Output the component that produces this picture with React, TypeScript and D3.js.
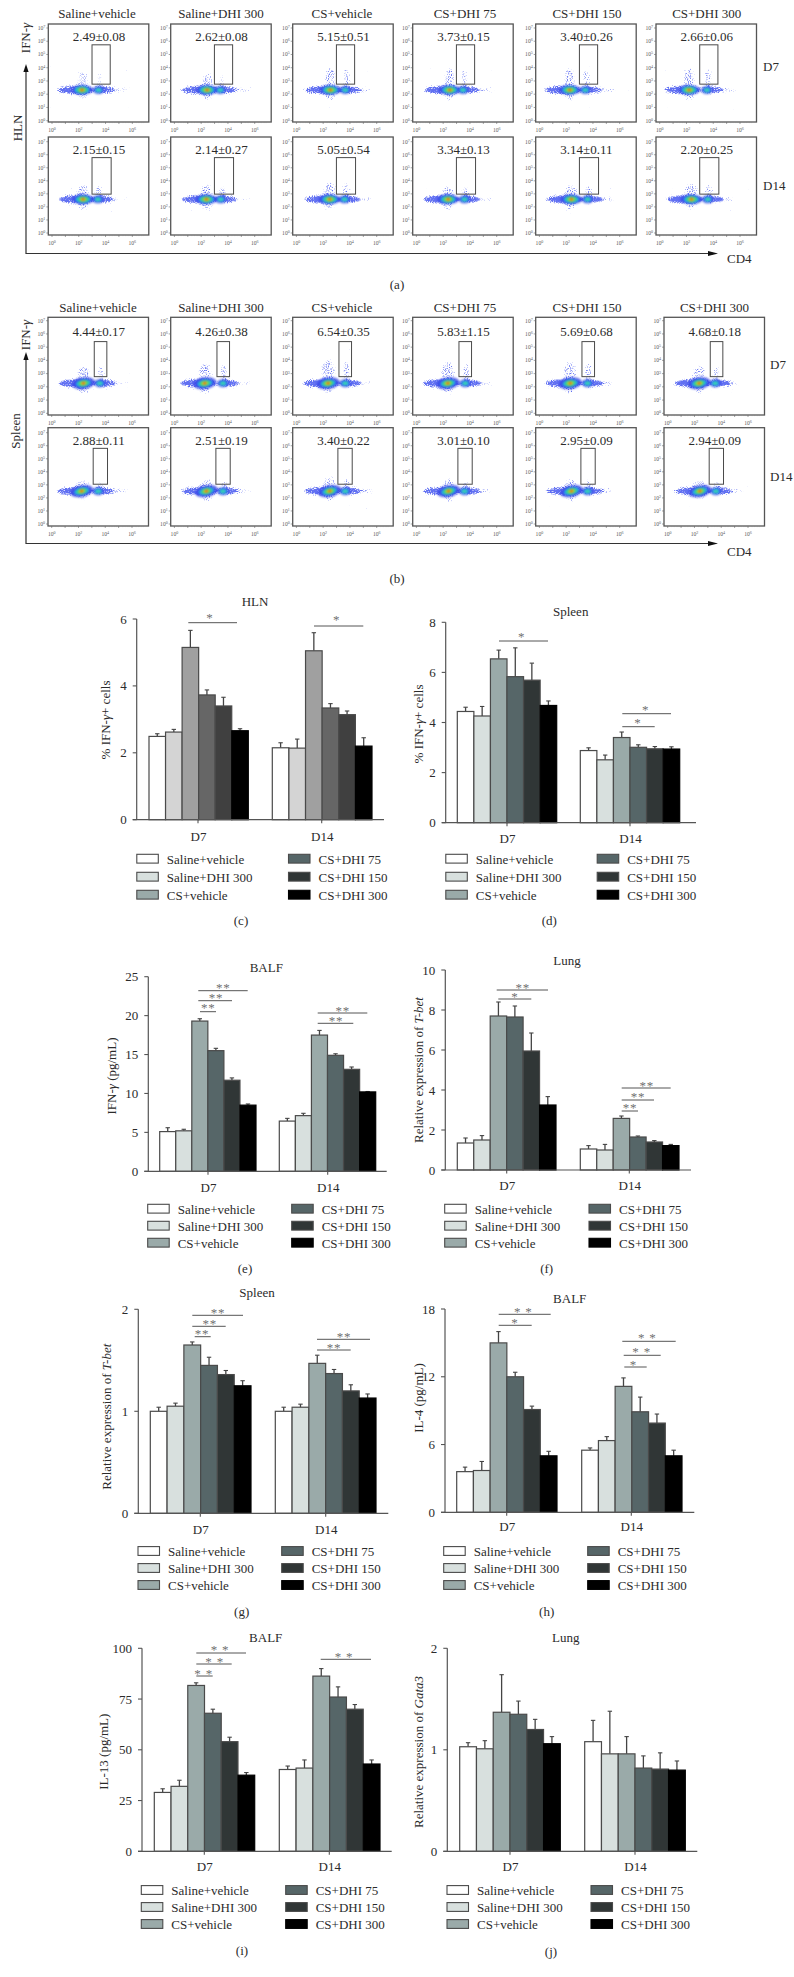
import React from "react";
import * as d3 from "d3";

// ---------- shared labels ----------
const seriesNames = ["Saline+vehicle", "Saline+DHI 300", "CS+vehicle", "CS+DHI 75", "CS+DHI 150", "CS+DHI 300"];
const days = ["D7", "D14"];

// ---------- bar values ----------
const hlnD7 = [2.49, 2.62, 5.15, 3.73, 3.4, 2.66];
const hlnD7Err = [0.08, 0.08, 0.51, 0.15, 0.26, 0.06];
const hlnD14 = [2.15, 2.14, 5.05, 3.34, 3.14, 2.2];
const hlnD14Err = [0.15, 0.27, 0.54, 0.13, 0.11, 0.25];
const splD7 = [4.44, 4.26, 6.54, 5.83, 5.69, 4.68];
const splD7Err = [0.17, 0.38, 0.35, 1.15, 0.68, 0.18];
const splD14 = [2.88, 2.51, 3.4, 3.01, 2.95, 2.94];
const splD14Err = [0.11, 0.19, 0.22, 0.1, 0.09, 0.09];
const ifnD7 = [5.1, 5.2, 19.3, 15.5, 11.7, 8.5];
const ifnD7Err = [0.5, 0.2, 0.3, 0.3, 0.3, 0.15];
const ifnD14 = [6.45, 7.15, 17.5, 14.9, 13.1, 10.2];
const ifnD14Err = [0.35, 0.3, 0.6, 0.2, 0.3, 0.05];
const lungTbetD7 = [1.35, 1.5, 7.7, 7.65, 5.95, 3.25];
const lungTbetD7Err = [0.25, 0.22, 0.7, 0.55, 0.9, 0.42];
const lungTbetD14 = [1.05, 1.0, 2.58, 1.65, 1.4, 1.22];
const lungTbetD14Err = [0.17, 0.28, 0.12, 0.05, 0.07, 0.06];
const splTbetD7 = [1.0, 1.05, 1.65, 1.45, 1.36, 1.25];
const splTbetD7Err = [0.04, 0.03, 0.03, 0.08, 0.04, 0.05];
const splTbetD14 = [1.0, 1.04, 1.47, 1.37, 1.2, 1.13];
const splTbetD14Err = [0.04, 0.03, 0.08, 0.04, 0.06, 0.04];
const il4D7 = [3.6, 3.7, 15, 12, 9.1, 5.0];
const il4D7Err = [0.4, 0.8, 1.0, 0.4, 0.3, 0.4];
const il4D14 = [5.5, 6.35, 11.15, 8.9, 7.9, 5.0];
const il4D14Err = [0.2, 0.35, 0.75, 1.3, 0.8, 0.5];
const il13D7 = [29, 32, 81.7, 68, 54, 37.5];
const il13D7Err = [1.8, 3, 1.3, 2, 2.2, 1.3];
const il13D14 = [40.3, 41, 86.3, 76, 70, 43];
const il13D14Err = [1.7, 4, 3.7, 5, 2.3, 2];
const gataD7 = [1.03, 1.01, 1.37, 1.35, 1.2, 1.06];
const gataD7Err = [0.04, 0.08, 0.37, 0.13, 0.1, 0.07];
const gataD14 = [1.08, 0.96, 0.96, 0.82, 0.81, 0.8];
const gataD14Err = [0.21, 0.42, 0.17, 0.12, 0.16, 0.09];

// ---------- flow cytometry values ----------
const statsHlnD7 = ["2.49±0.08", "2.62±0.08", "5.15±0.51", "3.73±0.15", "3.40±0.26", "2.66±0.06"];
const statsHlnD14 = ["2.15±0.15", "2.14±0.27", "5.05±0.54", "3.34±0.13", "3.14±0.11", "2.20±0.25"];
const statsSplD7 = ["4.44±0.17", "4.26±0.38", "6.54±0.35", "5.83±1.15", "5.69±0.68", "4.68±0.18"];
const statsSplD14 = ["2.88±0.11", "2.51±0.19", "3.40±0.22", "3.01±0.10", "2.95±0.09", "2.94±0.09"];
// log10 CD4 of the CD4- and CD4+ populations
const hlnD7Neg = [2.24, 2.44, 2.54, 2.49, 2.27, 2.2];
const hlnD7Pos = [3.48, 3.43, 3.65, 3.48, 3.43, 3.53];
const hlnD14Neg = [2.32, 2.39, 2.49, 2.37, 2.39, 2.37];
const hlnD14Pos = [3.43, 3.46, 3.6, 3.6, 3.6, 3.6];
const splD7Neg = [2.37, 2.27, 2.37, 2.35, 2.3, 2.35];
const splD7Pos = [3.6, 3.63, 3.65, 3.65, 3.6, 3.55];
const splD14Neg = [2.24, 2.39, 2.49, 2.4, 2.4, 2.4];
const splD14Pos = [3.48, 3.63, 3.65, 3.6, 3.6, 3.6];
// height of the IFN-gamma spray above each population, in decades
const hlnD7Spray = [1.3, 1.1, 1.6, 1.5, 1.5, 1.5];
const hlnD14Spray = [1.0, 1.0, 1.2, 0.9, 1.0, 1.1];
const splD7Spray = [1.2, 1.4, 1.7, 1.5, 1.5, 1.2];
const splD14Spray = [0.8, 0.8, 1.0, 0.8, 0.8, 0.8];

// ---------- palettes ----------
const bluePalette = ["#ffffff", "#d8e0de", "#9aaaa9", "#566668", "#303636", "#000000"];
const greyPalette = ["#ffffff", "#d4d4d4", "#a0a0a0", "#666666", "#404040", "#000000"];

const FONT = "'Liberation Serif', 'Times New Roman', serif";
const INK = "#2b2b2b";
const LINE = "#555";

type Part = { t: string; i?: boolean };
type Sig = { x1: number; x2: number; y: number; sx: number; sy: number; s: string };

function Label({ x, y, size = 13, anchor = "middle", rotate, parts }: any) {
  return (
    <text
      x={x}
      y={y}
      fontSize={size}
      fontFamily={FONT}
      fill={INK}
      textAnchor={anchor}
      dominantBaseline="central"
      transform={rotate ? `rotate(${rotate} ${x} ${y})` : undefined}
    >
      {parts.map((p: Part, i: number) => (
        <tspan key={i} fontStyle={p.i ? "italic" : "normal"}>
          {p.t}
        </tspan>
      ))}
    </text>
  );
}

function BarChart({ f, d7, d7e, d14, d14e, ticks, title, ylabel, caption, sig, palette }: any) {
  const y = d3.scaleLinear().domain([0, ticks[ticks.length - 1]]).range([f.bottom, f.top]);
  const groups = [
    { name: days[0], vals: d7, errs: d7e, range: f.g1, tick: f.t1 },
    { name: days[1], vals: d14, errs: d14e, range: f.g2, tick: f.t2 },
  ];
  return (
    <g>
      <Label x={f.titleX} y={f.titleY} parts={[{ t: title }]} />
      <Label x={f.ylX} y={f.ylY} rotate={-90} parts={ylabel} />
      {groups.map((g) => {
        const x = d3.scaleBand().domain(seriesNames).range(g.range).padding(0);
        return (
          <g key={g.name}>
            {g.vals.map((v: number, i: number) => {
              const n = seriesNames[i];
              const cx = (x(n) as number) + x.bandwidth() / 2;
              const top = y(v + g.errs[i]);
              return (
                <g key={n}>
                  <line x1={cx} x2={cx} y1={y(v)} y2={top} stroke="#444" strokeWidth={1.3} />
                  <line x1={cx - 2.2} x2={cx + 2.2} y1={top} y2={top} stroke="#444" strokeWidth={1.1} />
                  <rect
                    x={x(n) as number}
                    y={y(v)}
                    width={x.bandwidth()}
                    height={f.bottom - y(v)}
                    fill={palette[i]}
                    stroke={i === 5 ? "#000" : "#4a4a4a"}
                    strokeWidth={1.2}
                  />
                </g>
              );
            })}
            <line x1={g.tick} x2={g.tick} y1={f.bottom} y2={f.bottom + 3.5} stroke={LINE} strokeWidth={1.1} />
            <Label x={g.tick + 0.5} y={f.tickY} parts={[{ t: g.name }]} />
          </g>
        );
      })}
      <line x1={f.axis} x2={f.axis} y1={f.top} y2={f.bottom} stroke={LINE} strokeWidth={1.2} />
      <line x1={f.axis - 4} x2={f.xEnd} y1={f.bottom} y2={f.bottom} stroke={LINE} strokeWidth={1.2} />
      {ticks.map((t: number) => (
        <g key={t}>
          <line x1={f.axis - 4} x2={f.axis} y1={y(t)} y2={y(t)} stroke={LINE} strokeWidth={1.1} />
          <text x={f.axis - 10} y={y(t)} fontSize={13} fontFamily={FONT} fill={INK} textAnchor="end" dominantBaseline="central">
            {t}
          </text>
        </g>
      ))}
      {sig.map((s: Sig, i: number) => (
        <g key={i}>
          <line x1={s.x1} x2={s.x2} y1={s.y} y2={s.y} stroke={LINE} strokeWidth={1} />
          <text x={s.sx} y={s.sy + 1} fontSize={13} fontFamily={FONT} fill="#707070" textAnchor="middle" dominantBaseline="central" letterSpacing={0.8}>
            {s.s}
          </text>
        </g>
      ))}
      {seriesNames.map((n, i) => {
        const col = i < 3 ? 0 : 1;
        const row = i % 3;
        const sx = col === 0 ? f.lgX1 : f.lgX2;
        const ly = f.lgY + row * f.lgStep;
        return (
          <g key={n}>
            <rect x={sx} y={ly - 4.4} width={21.5} height={8.8} fill={bluePalette[i]} stroke={i === 5 ? "#000" : "#4a4a4a"} strokeWidth={1.1} />
            <Label x={sx + 30} y={ly} anchor="start" parts={[{ t: n }]} />
          </g>
        );
      })}
      <Label x={f.capX} y={f.capY} parts={[{ t: caption }]} />
    </g>
  );
}

const frameC = { axis: 136.7, top: 619, bottom: 819.7, xEnd: 384, g1: [149, 248.3], g2: [272.3, 372], t1: 198, t2: 321.7, tickY: 836, titleX: 255, titleY: 600.7, ylX: 105, ylY: 720, lgX1: 136.8, lgX2: 288.5, lgY: 858.7, lgStep: 18, capX: 241, capY: 920 };
const frameD = { axis: 445.7, top: 622.3, bottom: 822.7, xEnd: 696, g1: [457.3, 556.7], g2: [580.3, 679.7], t1: 507, t2: 630, tickY: 838, titleX: 570.7, titleY: 611, ylX: 418, ylY: 724, lgX1: 445.8, lgX2: 597.2, lgY: 858.7, lgStep: 18, capX: 549.3, capY: 920 };
const frameE = { axis: 148.3, top: 976.7, bottom: 1171.3, xEnd: 386.7, g1: [159.7, 256], g2: [279.3, 375.7], t1: 208, t2: 327.7, tickY: 1187, titleX: 266.3, titleY: 966.7, ylX: 110.7, ylY: 1076, lgX1: 147.7, lgX2: 291.7, lgY: 1208.7, lgStep: 17, capX: 245, capY: 1268 };
const frameF = { axis: 445.3, top: 970, bottom: 1170, xEnd: 691, g1: [457.3, 556], g2: [580.3, 679], t1: 506.7, t2: 629.3, tickY: 1185, titleX: 567, titleY: 960, ylX: 418, ylY: 1070, lgX1: 444.7, lgX2: 589, lgY: 1208.7, lgStep: 17, capX: 546.7, capY: 1268 };
const frameG = { axis: 138.3, top: 1309.3, bottom: 1513.3, xEnd: 388.3, g1: [150.3, 251], g2: [275.3, 376], t1: 200.3, t2: 325.7, tickY: 1528.7, titleX: 257, titleY: 1291.7, ylX: 106, ylY: 1416.7, lgX1: 138, lgX2: 281.7, lgY: 1551, lgStep: 17, capX: 241.7, capY: 1611 };
const frameH = { axis: 445, top: 1309, bottom: 1512.3, xEnd: 694.3, g1: [456.7, 557], g2: [581.7, 682], t1: 506.7, t2: 631.3, tickY: 1526, titleX: 569.7, titleY: 1298, ylX: 418, ylY: 1398, lgX1: 443.7, lgX2: 587.7, lgY: 1551, lgStep: 17, capX: 546.7, capY: 1611 };
const frameI = { axis: 142, top: 1648.3, bottom: 1851.3, xEnd: 391.7, g1: [154.3, 254.7], g2: [279.3, 380], t1: 204.3, t2: 329.3, tickY: 1865.7, titleX: 265.7, titleY: 1636.7, ylX: 103.3, ylY: 1751.7, lgX1: 141.3, lgX2: 285.7, lgY: 1890, lgStep: 17, capX: 242, capY: 1950 };
const frameJ = { axis: 447.3, top: 1648.3, bottom: 1851.3, xEnd: 697.3, g1: [459.7, 560.3], g2: [584.7, 685.3], t1: 510, t2: 635, tickY: 1865.7, titleX: 565.7, titleY: 1636.7, ylX: 418, ylY: 1752, lgX1: 447, lgX2: 591, lgY: 1890, lgStep: 17, capX: 551, capY: 1951 };

const sigC: Sig[] = [
  { x1: 188.3, x2: 237, y: 622.7, sx: 210, sy: 616, s: "*" },
  { x1: 314, x2: 363.3, y: 626, sx: 336.7, sy: 618, s: "*" },
];
const sigD: Sig[] = [
  { x1: 499, x2: 548, y: 641, sx: 521.7, sy: 635, s: "*" },
  { x1: 622.3, x2: 671, y: 713.7, sx: 645.7, sy: 708, s: "*" },
  { x1: 622.3, x2: 654.7, y: 726.7, sx: 638, sy: 721, s: "*" },
];
const sigE: Sig[] = [
  { x1: 198.3, x2: 247.7, y: 990.7, sx: 223.3, sy: 986.7, s: "**" },
  { x1: 198.3, x2: 232, y: 1000.7, sx: 216, sy: 996.7, s: "**" },
  { x1: 200, x2: 216, y: 1011.7, sx: 208.3, sy: 1006.7, s: "**" },
  { x1: 317.7, x2: 367.3, y: 1013, sx: 342.7, sy: 1009, s: "**" },
  { x1: 317.7, x2: 353.3, y: 1023.3, sx: 336, sy: 1019, s: "**" },
];
const sigF: Sig[] = [
  { x1: 496.7, x2: 548, y: 990, sx: 522.7, sy: 986, s: "**" },
  { x1: 498.3, x2: 531.3, y: 999, sx: 515, sy: 995, s: "*" },
  { x1: 621.7, x2: 670.7, y: 1088, sx: 646.7, sy: 1084, s: "**" },
  { x1: 621.7, x2: 654, y: 1100, sx: 638, sy: 1095.7, s: "**" },
  { x1: 621.7, x2: 638, y: 1111, sx: 630, sy: 1106, s: "**" },
];
const sigG: Sig[] = [
  { x1: 192.3, x2: 243, y: 1315.3, sx: 218, sy: 1311, s: "**" },
  { x1: 192.3, x2: 225.7, y: 1326.3, sx: 209.7, sy: 1322, s: "**" },
  { x1: 194.7, x2: 210.7, y: 1336.7, sx: 202, sy: 1332.7, s: "**" },
  { x1: 317, x2: 370, y: 1339.3, sx: 344, sy: 1335, s: "**" },
  { x1: 317, x2: 350.7, y: 1350, sx: 334, sy: 1346, s: "**" },
];
const sigH: Sig[] = [
  { x1: 498.7, x2: 550.7, y: 1314.3, sx: 523.3, sy: 1310, s: "* *" },
  { x1: 498.7, x2: 531.7, y: 1325.3, sx: 515, sy: 1321, s: "*" },
  { x1: 622.3, x2: 675.7, y: 1341.3, sx: 647.3, sy: 1336, s: "* *" },
  { x1: 623.7, x2: 660.7, y: 1355.3, sx: 641.7, sy: 1350, s: "* *" },
  { x1: 624.3, x2: 646.7, y: 1367, sx: 633.3, sy: 1363, s: "*" },
];
const sigI: Sig[] = [
  { x1: 196.3, x2: 246, y: 1653, sx: 220, sy: 1648, s: "* *" },
  { x1: 196.3, x2: 231.7, y: 1664, sx: 214.7, sy: 1660, s: "* *" },
  { x1: 196.3, x2: 212.7, y: 1676, sx: 203.7, sy: 1672, s: "* *" },
  { x1: 320.7, x2: 371, y: 1659.3, sx: 344, sy: 1655, s: "* *" },
];

const panelLefts = [48.3, 170.7, 292.7, 412.7, 535.7, 656];
const panelLeftsB = [48, 170.7, 292.7, 412.7, 535.7, 664];
const panelW = 100.5;

function Sup({ x, y, p, anchor }: any) {
  return (
    <text x={x} y={y} fontSize={5.6} fontFamily={FONT} fill="#5a5a5a" textAnchor={anchor}>
      10
      <tspan fontSize={4} dy={-1.8}>
        {p}
      </tspan>
    </text>
  );
}

function FlowPanel({ left, top, h, y0, y7, stat, statY, neg, pos, spray, gate, tilt, wide }: any) {
  const x = d3.scaleLinear().domain([0, 6]).range([left + 3.7, left + 84]);
  const y = d3.scaleLinear().domain([0, 7]).range([y0, y7]);
  const nx = x(neg), px = x(pos), cy = y(gate.level);
  const dec = Math.abs(y(1) - y(0));
  const minor = [0.3, 0.5, 0.7, 0.85];
  return (
    <g>
      {/* speckled haze: dots get denser where the blurred shapes are darker */}
      <g filter="url(#speck)">
        <ellipse cx={(x(0.3) + x(5.8)) / 2} cy={cy} rx={(x(5.8) - x(0.3)) / 2} ry={2.6} fill="#000" opacity={0.34} />
        <ellipse cx={nx} cy={cy - (spray * dec) / 2} rx={wide ? 7 : 6} ry={(spray * dec) / 2 + 2} fill="#000" opacity={0.3} />
        <ellipse cx={px + 1} cy={cy - (spray * dec) / 2} rx={3.6} ry={(spray * dec) / 2 + 1} fill="#000" opacity={0.3} />
        <ellipse cx={nx} cy={cy + 5} rx={5.5} ry={6} fill="#000" opacity={0.28} />
        <ellipse cx={nx - 7} cy={cy} rx={18} ry={4.5} fill="#000" opacity={0.55} />
        <ellipse cx={px + 6} cy={cy} rx={10} ry={3.8} fill="#000" opacity={0.48} />
      </g>
      <g filter="url(#soft)">
        <g transform={`rotate(${tilt} ${nx} ${cy})`}>
          <ellipse cx={nx} cy={cy} rx={wide ? 11.5 : 11} ry={wide ? 5.8 : 4.8} fill="#3644e6" opacity={0.85} />
          <ellipse cx={nx} cy={cy} rx={7.6} ry={3.7} fill="#22b8ea" />
          <ellipse cx={nx} cy={cy} rx={5.4} ry={2.8} fill="#3ed078" />
          <ellipse cx={nx} cy={cy} rx={3} ry={1.8} fill="#e4e020" />
          <ellipse cx={nx} cy={cy} rx={1.5} ry={1} fill="#e02818" />
        </g>
        <ellipse cx={px} cy={cy} rx={5.8} ry={4} fill="#3644e6" opacity={0.85} />
        <ellipse cx={px} cy={cy} rx={3.7} ry={2.6} fill="#26b6e8" />
        <ellipse cx={px} cy={cy} rx={2.1} ry={1.5} fill="#40d4a0" />
      </g>
      <rect x={left} y={top} width={panelW} height={h} fill="none" stroke="#555" strokeWidth={1.3} />
      <rect
        x={x(gate.x1)}
        y={y(gate.y2)}
        width={x(gate.x2) - x(gate.x1)}
        height={y(gate.y1) - y(gate.y2)}
        fill="none"
        stroke="#4a4a4a"
        strokeWidth={1}
      />
      <text x={left + panelW / 2 + 0.5} y={statY} fontSize={13} fontFamily={FONT} fill={INK} textAnchor="middle" dominantBaseline="central">
        {stat}
      </text>
      {d3.range(0, 8).map((p) => (
        <g key={p}>
          <line x1={left - 2} x2={left} y1={y(p)} y2={y(p)} stroke="#666" strokeWidth={0.6} />
          <Sup x={left - 3} y={y(p) + 1.8} p={p} anchor="end" />
        </g>
      ))}
      {d3.range(0, 7).map((p) => (
        <g key={p}>
          <line x1={x(p)} x2={x(p)} y1={top + h} y2={top + h + 2} stroke="#666" strokeWidth={0.6} />
          {minor.map((m) => (
            <line key={m} x1={x(p + m)} x2={x(p + m)} y1={top + h} y2={top + h + 1.1} stroke="#888" strokeWidth={0.4} />
          ))}
        </g>
      ))}
      {[0, 2, 4, 6].map((p) => (
        <Sup key={p} x={x(p)} y={top + h + 9.5} p={p} anchor="middle" />
      ))}
    </g>
  );
}

function Arrows({ yAxis, tipY }: any) {
  const line = d3.line();
  return (
    <g>
      <path d={line([[26, tipY + 6], [26, yAxis], [712, yAxis]]) as string} fill="none" stroke="#333" strokeWidth={1.2} />
      <path d={(line([[26, tipY], [23.4, tipY + 8], [28.6, tipY + 8]]) as string) + "Z"} fill="#111" />
      <path d={(line([[718, yAxis], [708, yAxis - 2.6], [708, yAxis + 2.6]]) as string) + "Z"} fill="#111" />
    </g>
  );
}

const ifnGamma: Part[] = [{ t: "IFN-" }, { t: "γ", i: true }];

function FlowBlock() {
  const colTitleX = [97, 221, 342, 465, 587, 706.7];
  const colTitleXB = [98, 221, 342, 465, 587, 714.5];
  return (
    <g>
      {seriesNames.map((n, i) => (
        <g key={n}>
          <Label x={colTitleX[i]} y={13} parts={[{ t: n }]} />
          <Label x={colTitleXB[i]} y={306.7} parts={[{ t: n }]} />
          <FlowPanel left={panelLefts[i]} top={24} h={98} y0={120.7} y7={28} stat={statsHlnD7[i]} statY={36} neg={hlnD7Neg[i]} pos={hlnD7Pos[i]} spray={hlnD7Spray[i]} tilt={0}
            gate={{ x1: 2.99, x2: 4.35, y1: 2.76, y2: 5.73, level: 2.32 }} />
          <FlowPanel left={panelLefts[i]} top={137} h={98} y0={233} y7={141.7} stat={statsHlnD14[i]} statY={149} neg={hlnD14Neg[i]} pos={hlnD14Pos[i]} spray={hlnD14Spray[i]} tilt={0}
            gate={{ x1: 2.99, x2: 4.42, y1: 2.98, y2: 5.78, level: 2.58 }} />
          <FlowPanel left={panelLeftsB[i]} top={317.3} h={97.7} y0={413.3} y7={320.7} stat={statsSplD7[i]} statY={331} neg={splD7Neg[i]} pos={splD7Pos[i]} spray={splD7Spray[i]} tilt={-8} wide
            gate={{ x1: 3.18, x2: 4.12, y1: 2.77, y2: 5.42, level: 2.27 }} />
          <FlowPanel left={panelLeftsB[i]} top={427.7} h={98.3} y0={524} y7={432.7} stat={statsSplD14[i]} statY={440.7} neg={splD14Neg[i]} pos={splD14Pos[i]} spray={splD14Spray[i]} tilt={-12} wide
            gate={{ x1: 3.1, x2: 4.17, y1: 3.05, y2: 5.8, level: 2.52 }} />
        </g>
      ))}
      <Label x={763} y={66} anchor="start" parts={[{ t: days[0] }]} />
      <Label x={763} y={185} anchor="start" parts={[{ t: days[1] }]} />
      <Label x={770} y={364} anchor="start" parts={[{ t: days[0] }]} />
      <Label x={770} y={476} anchor="start" parts={[{ t: days[1] }]} />
      <Label x={25} y={38} rotate={-90} parts={ifnGamma} />
      <Label x={17} y={128} rotate={-90} parts={[{ t: "HLN" }]} />
      <Label x={25} y={335} rotate={-90} parts={ifnGamma} />
      <Label x={15} y={431} rotate={-90} parts={[{ t: "Spleen" }]} />
      <Arrows yAxis={253.5} tipY={64} />
      <Arrows yAxis={543.5} tipY={352} />
      <Label x={727} y={258} anchor="start" parts={[{ t: "CD4" }]} />
      <Label x={727} y={551} anchor="start" parts={[{ t: "CD4" }]} />
      <Label x={397} y={284} parts={[{ t: "(a)" }]} />
      <Label x={397} y={578} parts={[{ t: "(b)" }]} />
    </g>
  );
}

export default function App() {
  return (
    <svg width={794} height={1977} viewBox="0 0 794 1977" style={{ position: "absolute", left: 0, top: 0, display: "block", background: "#fff" }}>
      <defs>
        <filter id="speck" x="-15%" y="-25%" width="130%" height="150%" colorInterpolationFilters="sRGB">
          <feGaussianBlur in="SourceAlpha" stdDeviation="1.6" result="b" />
          <feTurbulence type="fractalNoise" baseFrequency="0.95" numOctaves="1" seed="7" result="t" />
          <feComposite in="b" in2="t" operator="arithmetic" k1="0" k2="0.5" k3="0.5" k4="0" result="sum" />
          <feColorMatrix in="sum" type="matrix" values="0 0 0 0 0.38  0 0 0 0 0.44  0 0 0 0 0.95  0 0 0 7 -2.75" />
        </filter>
        <filter id="soft" x="-20%" y="-30%" width="140%" height="160%" colorInterpolationFilters="sRGB">
          <feGaussianBlur stdDeviation="0.85" />
        </filter>
      </defs>
      <rect width={794} height={1977} fill="#fff" />
      <FlowBlock />
      <BarChart f={frameC} d7={hlnD7} d7e={hlnD7Err} d14={hlnD14} d14e={hlnD14Err} ticks={[0, 2, 4, 6]} title="HLN" caption="(c)" sig={sigC} palette={greyPalette}
        ylabel={[{ t: "% IFN-" }, { t: "γ", i: true }, { t: "+ cells" }]} />
      <BarChart f={frameD} d7={splD7} d7e={splD7Err} d14={splD14} d14e={splD14Err} ticks={[0, 2, 4, 6, 8]} title="Spleen" caption="(d)" sig={sigD} palette={bluePalette}
        ylabel={[{ t: "% IFN-" }, { t: "γ", i: true }, { t: "+ cells" }]} />
      <BarChart f={frameE} d7={ifnD7} d7e={ifnD7Err} d14={ifnD14} d14e={ifnD14Err} ticks={[0, 5, 10, 15, 20, 25]} title="BALF" caption="(e)" sig={sigE} palette={bluePalette}
        ylabel={[{ t: "IFN-" }, { t: "γ", i: true }, { t: " (pg/mL)" }]} />
      <BarChart f={frameF} d7={lungTbetD7} d7e={lungTbetD7Err} d14={lungTbetD14} d14e={lungTbetD14Err} ticks={[0, 2, 4, 6, 8, 10]} title="Lung" caption="(f)" sig={sigF} palette={bluePalette}
        ylabel={[{ t: "Relative expression of " }, { t: "T-bet", i: true }]} />
      <BarChart f={frameG} d7={splTbetD7} d7e={splTbetD7Err} d14={splTbetD14} d14e={splTbetD14Err} ticks={[0, 1, 2]} title="Spleen" caption="(g)" sig={sigG} palette={bluePalette}
        ylabel={[{ t: "Relative expression of " }, { t: "T-bet", i: true }]} />
      <BarChart f={frameH} d7={il4D7} d7e={il4D7Err} d14={il4D14} d14e={il4D14Err} ticks={[0, 6, 12, 18]} title="BALF" caption="(h)" sig={sigH} palette={bluePalette}
        ylabel={[{ t: "IL-4 (pg/mL)" }]} />
      <BarChart f={frameI} d7={il13D7} d7e={il13D7Err} d14={il13D14} d14e={il13D14Err} ticks={[0, 25, 50, 75, 100]} title="BALF" caption="(i)" sig={sigI} palette={bluePalette}
        ylabel={[{ t: "IL-13 (pg/mL)" }]} />
      <BarChart f={frameJ} d7={gataD7} d7e={gataD7Err} d14={gataD14} d14e={gataD14Err} ticks={[0, 1, 2]} title="Lung" caption="(j)" sig={[]} palette={bluePalette}
        ylabel={[{ t: "Relative expression of " }, { t: "Gata3", i: true }]} />
    </svg>
  );
}
